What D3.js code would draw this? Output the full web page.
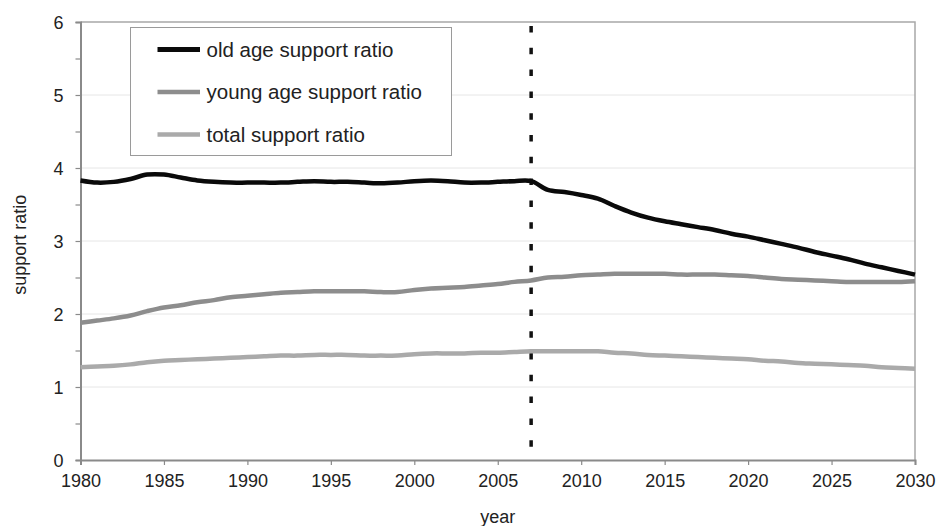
<!DOCTYPE html>
<html>
<head>
<meta charset="utf-8">
<script src="https://cdn.jsdelivr.net/npm/d3@7"></script>
<style>
body { margin: 0; background: #fff; }
svg text { font-family: "Liberation Sans", Arial, sans-serif; fill: #222; }
</style>
</head>
<body>
<div id="chart"></div>
<script>
//years along the bottom
var years = d3.range(1980, 2031);
//series values, one per year
var oldAge = [3.83,3.80,3.81,3.85,3.91,3.91,3.87,3.83,3.81,3.80,
	3.80,3.80,3.80,3.81,3.82,3.81,3.81,3.80,3.79,3.80,
	3.82,3.83,3.82,3.80,3.80,3.81,3.82,3.82,3.70,3.67,
	3.63,3.58,3.48,3.39,3.32,3.27,3.23,3.19,3.15,3.10,
	3.06,3.01,2.96,2.91,2.85,2.80,2.75,2.69,2.64,2.59,2.54];
var youngAge = [1.88,1.91,1.94,1.98,2.04,2.09,2.12,2.16,2.19,2.23,
	2.25,2.27,2.29,2.30,2.31,2.31,2.31,2.31,2.30,2.30,
	2.33,2.35,2.36,2.37,2.39,2.41,2.44,2.46,2.50,2.51,
	2.53,2.54,2.55,2.55,2.55,2.55,2.54,2.54,2.54,2.53,
	2.52,2.50,2.48,2.47,2.46,2.45,2.44,2.44,2.44,2.44,2.45];
var totalRatio = [1.27,1.28,1.29,1.31,1.34,1.36,1.37,1.38,1.39,1.40,
	1.41,1.42,1.43,1.43,1.44,1.44,1.44,1.43,1.43,1.43,
	1.45,1.46,1.46,1.46,1.47,1.47,1.48,1.49,1.49,1.49,
	1.49,1.49,1.47,1.46,1.44,1.43,1.42,1.41,1.40,1.39,
	1.38,1.36,1.35,1.33,1.32,1.31,1.30,1.29,1.27,1.26,1.25];
var seriesNames = ["old age support ratio", "young age support ratio", "total support ratio"];
var xTicks = [1980,1985,1990,1995,2000,2005,2010,2015,2020,2025,2030];
var yTicks = [0,1,2,3,4,5,6];
var markerYear = 2007;

var width = 938, height = 526;
var margin = {top: 22, right: 23, bottom: 66, left: 80.5};

var svg = d3.select("#chart").append("svg")
	.attr("width", width)
	.attr("height", height);

var x = d3.scaleLinear().domain([1980, 2030]).range([margin.left, width - margin.right]);
var y = d3.scaleLinear().domain([0, 6]).range([height - margin.bottom, margin.top]);

//light gridlines
svg.append("g").selectAll("line")
	.data(yTicks.slice(1, -1))
	.enter().append("line")
	.attr("x1", x(1980)).attr("x2", x(2030))
	.attr("y1", function(d){ return y(d); })
	.attr("y2", function(d){ return y(d); })
	.attr("stroke", "#e6e6e6")
	.attr("stroke-width", 1);

//top and right frame
svg.append("path")
	.attr("d", "M" + x(1980) + "," + y(6) + "H" + x(2030) + "V" + y(0))
	.attr("fill", "none")
	.attr("stroke", "#a8a8a8")
	.attr("stroke-width", 1.5);

//axes
var xAxis = svg.append("g")
	.attr("transform", "translate(0," + y(0) + ")")
	.call(d3.axisBottom(x).tickValues(xTicks).tickFormat(d3.format("d")).tickSize(5).tickPadding(9));
var yAxis = svg.append("g")
	.attr("transform", "translate(" + x(1980) + ",0)")
	.call(d3.axisLeft(y).tickValues(d3.range(0, 6.5, 0.5)).tickSize(5).tickPadding(12)
		.tickFormat(function(d){ return d % 1 === 0 ? d : ""; }));

[xAxis, yAxis].forEach(function(a){
	a.select(".domain").attr("stroke", "#8a8a8a").attr("stroke-width", 2);
	a.selectAll(".tick line").attr("stroke", "#8a8a8a").attr("stroke-width", 1.2);
	a.selectAll("text").style("font-size", "18px").attr("fill", "#222");
});
yAxis.selectAll("text").attr("dy", "0.35em");

//axis titles
svg.append("text")
	.attr("x", x(2005))
	.attr("y", 523)
	.attr("text-anchor", "middle")
	.style("font-size", "18px")
	.text("year");
svg.append("text")
	.attr("transform", "translate(26," + y(2.95) + ") rotate(-90)")
	.attr("text-anchor", "middle")
	.style("font-size", "18px")
	.text("support ratio");

//dotted line marking the base year
svg.append("line")
	.attr("x1", x(markerYear)).attr("x2", x(markerYear))
	.attr("y1", y(6) + 4).attr("y2", y(0))
	.attr("stroke", "#111")
	.attr("stroke-width", 3.5)
	.attr("stroke-dasharray", "6.5,15.3");

var colors = ["#0a0a0a", "#8d8d8d", "#aaaaaa"];
var widths = [4.5, 4.5, 4.5];
var allSeries = [oldAge, youngAge, totalRatio];

//smoothed lines like the spreadsheet original
var line = d3.line()
	.x(function(d, i){ return x(years[i]); })
	.y(function(d){ return y(d); })
	.curve(d3.curveCatmullRom.alpha(0.5));

//draw the grey ones first so the black sits on top
[2, 1, 0].forEach(function(k){
	svg.append("path")
		.datum(allSeries[k])
		.attr("d", line)
		.attr("fill", "none")
		.attr("stroke", colors[k])
		.attr("stroke-width", widths[k])
		.attr("stroke-linejoin", "round");
});

//legend box
var legend = svg.append("g");
legend.append("rect")
	.attr("x", 130.5).attr("y", 27.5)
	.attr("width", 321).attr("height", 128)
	.attr("fill", "#fff")
	.attr("stroke", "#9a9a9a")
	.attr("stroke-width", 1);
seriesNames.forEach(function(name, i){
	var ly = 49.5 + i * 42.5;
	legend.append("line")
		.attr("x1", 157.5).attr("x2", 200)
		.attr("y1", ly).attr("y2", ly)
		.attr("stroke", colors[i])
		.attr("stroke-width", i === 0 ? 5 : 4.5);
	legend.append("text")
		.attr("x", 206.5).attr("y", ly)
		.attr("dy", "0.35em")
		.style("font-size", "20.5px")
		.text(name);
});
</script>
</body>
</html>
